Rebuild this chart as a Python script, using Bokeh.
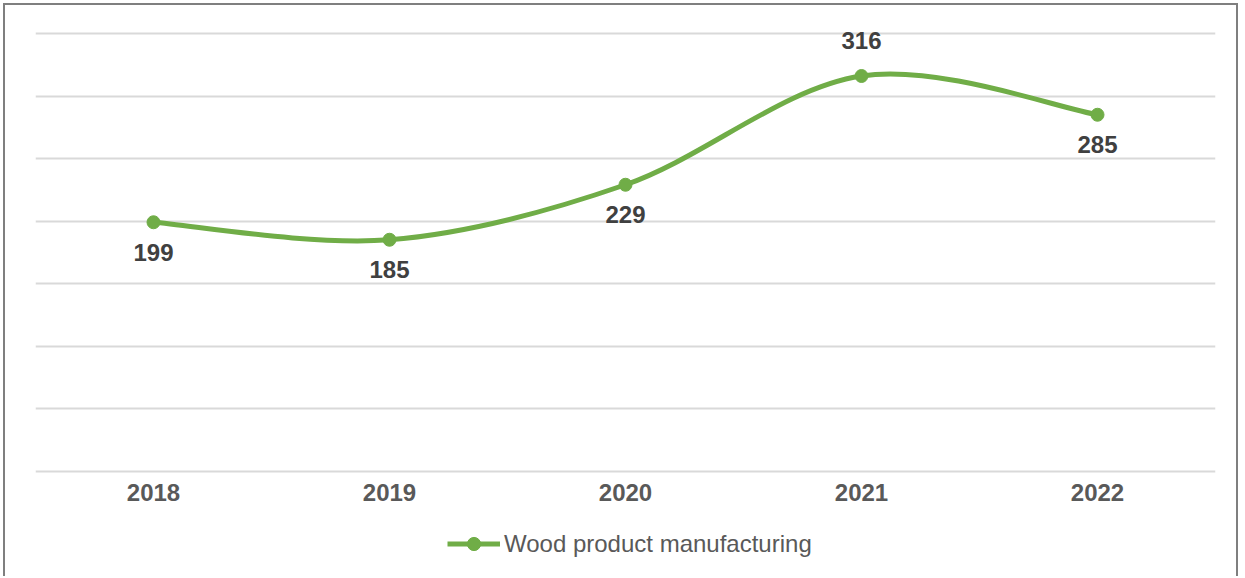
from bokeh.plotting import figure
from bokeh.models import Legend, LegendItem, FixedTicker, ColumnDataSource
from bokeh.embed import file_html
from bokeh.resources import INLINE
from bokeh.core.properties import value

years = ["2018", "2019", "2020", "2021", "2022"]
values = [199, 185, 229, 316, 285]
series_name = "Wood product manufacturing"
label_side = ["below", "below", "below", "above", "below"]

GREEN = "#70AD47"
FONT = "Liberation Sans"

xs = list(range(len(years)))

# smooth (Excel-like) curve segments via cubic Bezier, control points from neighbours
x0s, y0s, x1s, y1s, cx0, cy0, cx1, cy1 = [], [], [], [], [], [], [], []
n = len(values)
for i in range(n - 1):
    pm = (xs[max(i - 1, 0)], values[max(i - 1, 0)])
    p0 = (xs[i], values[i])
    p1 = (xs[i + 1], values[i + 1])
    pp = (xs[min(i + 2, n - 1)], values[min(i + 2, n - 1)])
    x0s.append(p0[0]); y0s.append(p0[1])
    x1s.append(p1[0]); y1s.append(p1[1])
    cx0.append(p0[0] + (p1[0] - pm[0]) / 6); cy0.append(p0[1] + (p1[1] - pm[1]) / 6)
    cx1.append(p1[0] - (pp[0] - p0[0]) / 6); cy1.append(p1[1] - (pp[1] - p0[1]) / 6)

p = figure(width=1235, height=573, output_backend="svg", toolbar_location=None,
           x_range=(-0.5, 4.5), y_range=(-73.2, 354),
           min_border_left=30, min_border_right=25, min_border_top=23, min_border_bottom=16)
p.styles = {"margin-left": "3px", "margin-top": "3px",
            "border-left": "2px solid #7f7f7f", "border-top": "2px solid #7f7f7f",
            "border-right": "2px solid #7f7f7f"}
p.outline_line_color = None
p.background_fill_color = "white"
p.border_fill_color = "white"

ticks = [0, 50, 100, 150, 200, 250, 300, 350]
p.xgrid.visible = False
p.ygrid.grid_line_color = "#d9d9d9"
p.ygrid.grid_line_width = 2
p.yaxis.visible = False
p.yaxis.ticker = FixedTicker(ticks=ticks)
p.ygrid.ticker = FixedTicker(ticks=ticks)

p.xaxis.fixed_location = -24.8
p.xaxis.ticker = FixedTicker(ticks=xs)
p.xaxis.major_label_overrides = {i: y for i, y in zip(xs, years)}
p.xaxis.axis_line_color = None
p.xaxis.major_tick_line_color = None
p.xaxis.minor_tick_line_color = None
p.xaxis.major_tick_out = 0
p.xaxis.major_label_text_font = FONT
p.xaxis.major_label_text_font_style = "bold"
p.xaxis.major_label_text_font_size = "24px"
p.xaxis.major_label_text_color = "#595959"
p.xaxis.major_label_standoff = -18

curve = p.bezier(x0=x0s, y0=y0s, x1=x1s, y1=y1s, cx0=cx0, cy0=cy0, cx1=cx1, cy1=cy1,
                 line_color=GREEN, line_width=5)
pts = p.scatter(xs, values, size=13, fill_color=GREEN, line_color=GREEN)
legend_line = p.line([0, 0], [-1000, -1000], line_color=GREEN, line_width=5)

offs = [30 if s == "below" else -36 for s in label_side]
src = ColumnDataSource(dict(x=xs, y=values, t=[str(v) for v in values], off=offs))
p.text(x="x", y="y", text="t", source=src, y_offset="off", text_align="center",
       text_baseline="middle", text_font=value(FONT), text_font_style="bold",
       text_font_size="24px", text_color="#404040")

legend = Legend(items=[LegendItem(label=series_name, renderers=[legend_line, pts])],
                location=(412, 2), orientation="horizontal",
                border_line_color=None, background_fill_alpha=0,
                glyph_width=53, glyph_height=33, padding=0, margin=0,
                label_text_font=FONT, label_text_font_size="24px",
                label_text_color="#595959", label_standoff=4)
p.add_layout(legend, "center")

open("out.html", "w").write(file_html(p, INLINE))
